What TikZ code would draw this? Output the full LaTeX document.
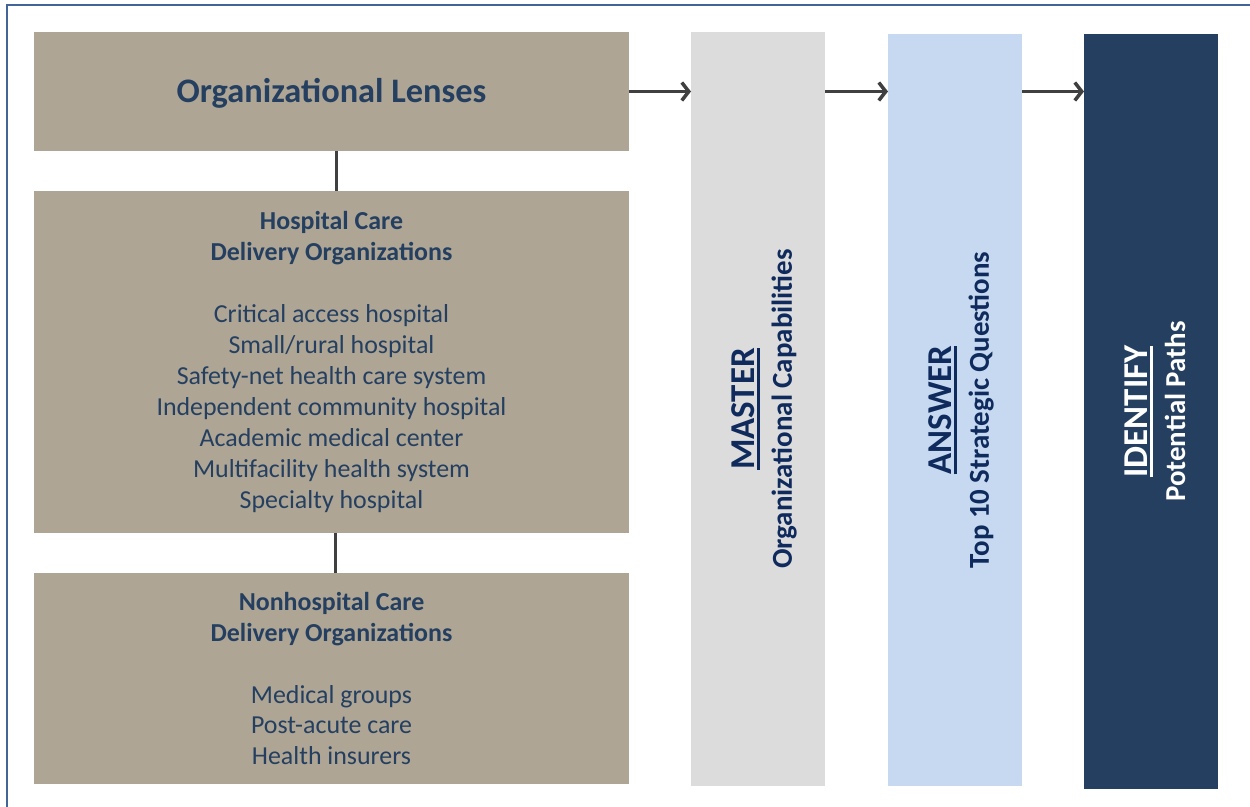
\documentclass[tikz,border=0pt]{standalone}
\usepackage{fontspec}
\setmainfont{Carlito}
\usetikzlibrary{arrows.meta}

\definecolor{lensfill}{HTML}{AEA595}
\definecolor{lenstext}{HTML}{243F60}
\definecolor{masterfill}{HTML}{DCDCDC}
\definecolor{answerfill}{HTML}{C6D9F0}
\definecolor{identfill}{HTML}{243F60}
\definecolor{navytext}{HTML}{0F2A5C}
\definecolor{arrowgray}{HTML}{404040}
\definecolor{framecol}{HTML}{426497}

% thick underline for the step words
\newcommand{\thickul}[1]{\setbox0\hbox{#1}\rlap{\rule[-6bp]{\wd0}{3.5bp}}\box0}
\newcommand{\bigword}{\fontsize{35}{38}\selectfont}

\begin{document}
\begin{tikzpicture}
  [x=1bp,y=-1bp,
   lensbox/.style={fill=lensfill,text=lenstext,minimum width=595bp,inner sep=0pt,outer sep=0pt,anchor=north west,align=center,font=\fontsize{26}{31}\selectfont},
   stepcol/.style={minimum width=134bp,inner sep=0pt,outer sep=0pt,anchor=north west},
   steptext/.style={rotate=90,align=center,font=\bfseries\fontsize{29}{38}\selectfont},
   flow/.style={arrowgray,line width=3.5bp,-{Straight Barb[length=7bp,width=18bp]}},
   link/.style={arrowgray,line width=3.5bp}]
  \useasboundingbox (0,0) rectangle (1250,807);
  \draw[framecol,line width=2bp] (7,5) rectangle (1300,900);

  \node[lensbox,minimum height=119bp,font=\bfseries\fontsize{34.5}{40}\selectfont,text depth=3bp] (lens) at (34,32)
    {Organizational Lenses};
  \node[lensbox,minimum height=342bp] (hosp) at (34,191)
    {\textbf{Hospital Care}\\\textbf{Delivery Organizations}\\[31bp]
     Critical access hospital\\Small/rural hospital\\
     Safety-net health care system\\Independent community hospital\\
     Academic medical center\\Multifacility health system\\Specialty hospital};
  \node[lensbox,minimum height=211bp] (nonhosp) at (34,573)
    {\textbf{Nonhospital Care}\\\textbf{Delivery Organizations}\\[31bp]
     Medical groups\\Post-acute care\\Health insurers};

  \node[stepcol,fill=masterfill,minimum height=754bp] (master) at (691,32) {};
  \node[stepcol,fill=answerfill,minimum height=752bp] (answer) at (888,34) {};
  \node[stepcol,fill=identfill,minimum height=755bp] (ident) at (1084,34) {};

  \node[steptext,text=navytext] (mastertxt) at ([xshift=6bp]master.center)
    {\bigword\thickul{MASTER}\\Organizational Capabilities};
  \node[steptext,text=navytext] (answertxt) at ([xshift=6bp]answer.center)
    {\bigword\thickul{ANSWER}\\Top 10 Strategic Questions};
  \node[steptext,text=white] (identtxt) at ([xshift=4bp]ident.center)
    {\bigword\thickul{IDENTIFY}\\Potential Paths};

  \draw[link] ([xshift=5bp]lens.south) -- ([xshift=5bp]hosp.north);
  \draw[link] ([xshift=4bp]hosp.south) -- ([xshift=4bp]nonhosp.north);
  \draw[flow] (lens.east) -- (lens.east -| master.west);
  \draw[flow] (lens.east -| master.east) -- (lens.east -| answer.west);
  \draw[flow] (lens.east -| answer.east) -- (lens.east -| ident.west);
\end{tikzpicture}
\end{document}
